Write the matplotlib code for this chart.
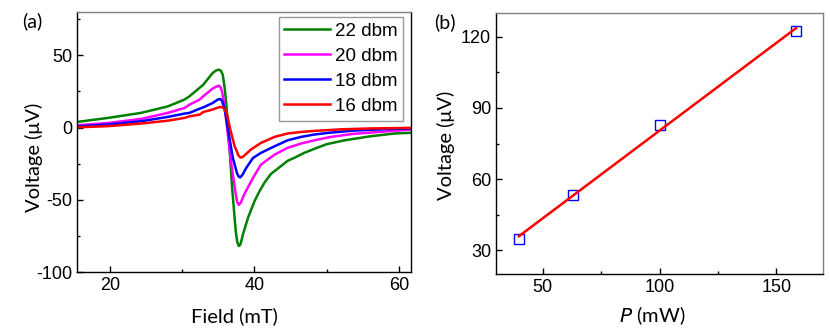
import matplotlib
matplotlib.use("Agg")
import matplotlib.pyplot as plt
import numpy as np
from matplotlib.ticker import MultipleLocator

# (a) field sweeps at different microwave powers
x22 = [15.4, 19.7, 24.3, 28.0, 30.3, 31.0, 32.1, 32.9, 34.2, 34.7, 35.07, 35.35, 35.6, 35.85,
       36.1, 36.45, 36.9, 37.4, 37.6, 37.83, 38.05, 38.4, 39.1, 40.0, 40.7, 41.4, 42.3, 43.2,
       44.6, 45.5, 46.9, 48.3, 50.0, 52.5, 56.1, 59.4, 61.7]
y22 = [3.9, 6.7, 10.2, 14.7, 19.4, 21.7, 26.3, 29.7, 37.8, 39.6, 40.1, 39.3, 36.6, 28,
       16, -7, -41.7, -71.7, -79, -82, -81, -74, -62.5, -51, -44, -38, -32, -28.5,
       -23, -21, -17.5, -14.7, -11.5, -8.8, -6, -4.1, -3.6]

x20 = [15.4, 19.7, 24.3, 28.0, 30.3, 31.0, 32.4, 32.9, 34.2, 34.7, 35.07, 35.3, 35.5, 35.9,
       36.3, 36.8, 37.4, 37.6, 37.83, 38.1, 38.6, 39.8, 40.9, 42.8, 44.6, 46.5, 48.3, 50.5,
       53.8, 58.4, 61.7]
y20 = [1.6, 3.2, 6.0, 10.2, 13.6, 15.9, 19.4, 21.7, 27, 28.4, 29, 28, 25, 13.6,
       -4.8, -25.6, -46, -51.5, -53.5, -52, -46, -34.8, -25.6, -18.7, -14, -11, -8.8, -6.5,
       -4.3, -2.6, -1.4]

x18 = [15.4, 19.7, 24.3, 28.0, 30.3, 31.0, 32.4, 32.9, 34.2, 34.9, 35.26, 35.5, 35.8, 36.0,
       36.45, 37.0, 37.56, 37.75, 38.0, 38.3, 38.85, 39.8, 40.9, 42.8, 44.6, 46.5, 48.3, 50.5,
       53.8, 58.4, 61.7]
y18 = [0.9, 2.1, 4.4, 7.4, 9.7, 10.2, 13.1, 14, 17, 19.4, 19.8, 18.5, 14, 9,
       -4.8, -21, -31.3, -33.5, -34.5, -33, -28, -21, -17.5, -12.9, -8.8, -6.4, -4.8, -3.5,
       -2.1, -1.0, -0.6]

x16 = [15.4, 19.7, 24.3, 28.0, 30.3, 31.0, 32.4, 32.9, 34.2, 35.0, 35.4, 35.7, 36.0, 36.2,
       36.65, 37.25, 37.8, 38.1, 38.4, 39.0, 39.5, 40.9, 42.8, 44.6, 46.5, 48.3, 52.0, 56.0,
       61.7]
y16 = [0.2, 1.0, 2.8, 4.8, 6.7, 7.8, 9, 10.8, 12.5, 14, 14.3, 13.5, 11.5, 9,
       -1.4, -12.9, -19.5, -20.8, -20.2, -17.5, -15.2, -10.6, -6.4, -4.1, -3.0, -2.3, -1.2, -0.6,
       -0.2]

labels = ["22 dbm", "20 dbm", "18 dbm", "16 dbm"]
colors = ["#008000", "#ff00ff", "#0000ff", "#ff0000"]

# (b) peak-to-peak voltage vs power
power = [39.8, 63.1, 100, 158.5]
voltage = [34.7, 53.3, 82.7, 122.5]

plt.rcParams['font.family'] = ['Liberation Sans', 'DejaVu Sans']
plt.rcParams['axes.unicode_minus'] = False
label_font = ['Lato', 'DejaVu Sans']

fig = plt.figure(figsize=(8.3, 3.32), dpi=100)
ax1 = fig.add_axes([0.0928, 0.1807, 0.4024, 0.783])
ax2 = fig.add_axes([0.5976, 0.1747, 0.394, 0.786])

for xs, ys, lab, c in zip([x22, x20, x18, x16], [y22, y20, y18, y16], labels, colors):
    ax1.plot(xs, ys, color=c, lw=1.8, label=lab)

ax1.set_xlim(15.4, 61.7)
ax1.set_ylim(-100, 80)
ax1.xaxis.set_major_locator(MultipleLocator(20))
ax1.xaxis.set_minor_locator(MultipleLocator(10))
ax1.yaxis.set_major_locator(MultipleLocator(50))
ax1.yaxis.set_minor_locator(MultipleLocator(25))
ax1.set_xlabel("Field (mT)", family=label_font, fontsize=14.5)
ax1.set_ylabel("Voltage (μV)", family=label_font, fontsize=14.5)
ax1.xaxis.set_label_coords(0.47, -0.135)
ax1.yaxis.set_label_coords(-0.102, 0.44)
leg = ax1.legend(loc='upper right', fontsize=13.5, frameon=True, fancybox=False,
                 handlelength=2.45, handletextpad=0.25, labelspacing=0.42,
                 borderpad=0.3, borderaxespad=0, bbox_to_anchor=(0.976, 0.98))
leg.get_frame().set_edgecolor('gray')
leg.get_frame().set_linewidth(1.0)
ax1.text(-0.165, 1.0, "(a)", transform=ax1.transAxes, fontsize=14, va='top',
         family=label_font)

ax2.plot(power, voltage, 's', mfc='none', mec='#0000ff', ms=6.5, mew=1.0)
fit = np.polyfit(power, voltage, 1)
ax2.plot(power, np.polyval(fit, power), color='#ff0000', lw=1.8)
ax2.set_xlim(30, 170)
ax2.set_ylim(20, 130)
ax2.xaxis.set_major_locator(MultipleLocator(50))
ax2.xaxis.set_minor_locator(MultipleLocator(25))
ax2.yaxis.set_major_locator(MultipleLocator(30))
ax2.yaxis.set_minor_locator(MultipleLocator(15))
ax2.set_xlabel("$\\it{P}$ (mW)", family=label_font, fontsize=14.5)
ax2.set_ylabel("Voltage (μV)", family=label_font, fontsize=14.5)
ax2.xaxis.set_label_coords(0.477, -0.118)
ax2.yaxis.set_label_coords(-0.126, 0.494)
ax2.text(-0.19, 1.0, "(b)", transform=ax2.transAxes, fontsize=14, va='top',
         family=label_font)

for ax in (ax1, ax2):
    ax.tick_params(which='both', direction='in', labelsize=13, top=False, right=False)
    ax.tick_params(which='major', length=4, width=1)
    ax.tick_params(which='minor', length=2.5, width=1)
    ax.spines['top'].set_color('gray')
    for s in ax.spines.values():
        s.set_linewidth(1.0)
ax2.spines['right'].set_color('gray')

fig.savefig("out.png", dpi=100)
